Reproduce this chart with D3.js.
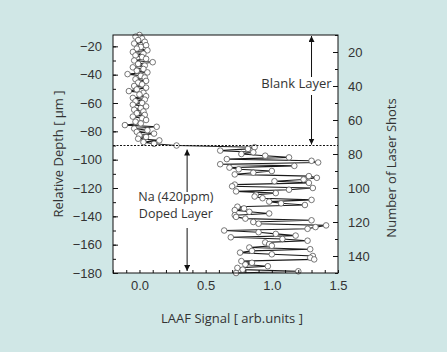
<!DOCTYPE html>
<html lang="en">
<head>
    <meta charset="UTF-8">
    <title>LAAF depth profile</title>
    <script src="https://d3js.org/d3.v7.min.js"></script>
    <style>
        html, body {
            margin: 0;
            padding: 0;
            background: #d0e7e6;
        }
        svg {
            display: block;
            font-family: "Open Sans", sans-serif;
        }
        .axis text {
            font-size: 13px;
            fill: #333;
        }
        .axis path, .axis line {
            stroke: #111;
        }
    </style>
</head>
<body>
    <svg id="chart"></svg>

    <script>
        // laser shot numbers (one measurement per shot)
        const shots = d3.range(10, 151);

        // LAAF signal, blank layer (shots 10-75)
        const blankSignal = [
            0.00, -0.03, 0.02, -0.01, 0.04, -0.04, 0.05, 0.01, -0.02, 0.06,
            -0.05, 0.03, -0.03, 0.02, 0.05, -0.04, 0.10, -0.01, 0.04, -0.05,
            0.03, -0.02, 0.06, -0.09, 0.01, 0.04, -0.03, 0.05, -0.01, 0.02,
            -0.04, 0.05, -0.02, -0.08, 0.03, 0.00, 0.05, -0.05, 0.04, -0.03,
            0.02, -0.05, 0.05, 0.01, -0.04, 0.03, -0.02, 0.04, -0.05, 0.02,
            0.05, -0.03, 0.01, -0.11, 0.13, -0.04, 0.06, -0.02, 0.11, 0.00,
            0.05, -0.01, 0.15, 0.03, 0.11, 0.28
        ];

        // LAAF signal, Na doped layer (shots 76-150)
        const dopedSignal = [
            0.87, 0.82, 0.61, 0.86, 0.77, 0.95, 1.13, 0.66, 1.30, 1.35,
            0.61, 1.17, 0.68, 0.75, 1.00, 0.86, 0.72, 1.28, 1.34, 1.24,
            1.02, 1.28, 0.72, 0.70, 1.31, 1.13, 0.73, 1.03, 0.88, 0.87,
            0.93, 1.30, 0.98, 1.07, 1.25, 0.74, 0.79, 0.72, 0.83, 0.98,
            0.72, 0.73, 0.80, 1.30, 0.86, 0.90, 1.41, 1.33, 1.27, 0.64,
            0.90, 1.03, 1.18, 0.69, 1.08, 1.27, 0.95, 0.98, 1.00, 0.83,
            1.29, 0.85, 0.76, 1.00, 1.31, 1.29, 1.32, 0.77, 0.85, 0.80,
            0.97, 0.74, 0.78, 1.20, 0.73
        ];

        const depthTicks = [-20, -40, -60, -80, -100, -120, -140, -160, -180];
        const shotTicks = [20, 40, 60, 80, 100, 120, 140];
        const signalTicks = [0.0, 0.5, 1.0, 1.5];
        const layerBoundary = -90;   // depth in µm

        const width = 447, height = 352;
        const margin = { top: 35, right: 109, bottom: 79, left: 113 };
        const w = width - margin.left - margin.right;
        const h = height - margin.top - margin.bottom;

        const svg = d3.select("#chart")
            .attr("width", width)
            .attr("height", height);

        const x = d3.scaleLinear().domain([-0.2, 1.5]).range([0, w]);
        const yDepth = d3.scaleLinear().domain([-180, -12]).range([h, 0]);
        const yShot = d3.scaleLinear().domain([10, 150]).range([0, h]);

        const g = svg.append("g")
            .attr("transform", `translate(${margin.left},${margin.top})`);

        g.append("rect")
            .attr("width", w)
            .attr("height", h)
            .attr("fill", "#fff");

        const data = shots.map((s, i) => ({
            shot: s,
            signal: i < blankSignal.length ? blankSignal[i] : dopedSignal[i - blankSignal.length]
        }));

        // connecting line
        g.append("path")
            .datum(data)
            .attr("fill", "none")
            .attr("stroke", "#1a1a1a")
            .attr("stroke-width", 1.1)
            .attr("d", d3.line().x(d => x(d.signal)).y(d => yShot(d.shot)));

        g.selectAll("circle")
            .data(data)
            .enter()
            .append("circle")
            .attr("cx", d => x(d.signal))
            .attr("cy", d => yShot(d.shot))
            .attr("r", 2.8)
            .attr("fill", "#fff")
            .attr("stroke", "#555")
            .attr("stroke-width", 0.8);

        // boundary between layers
        g.append("line")
            .attr("x1", 0).attr("x2", w)
            .attr("y1", yDepth(layerBoundary)).attr("y2", yDepth(layerBoundary))
            .attr("stroke", "#111")
            .attr("stroke-dasharray", "2,1.5");

        // arrows
        const defs = svg.append("defs");
        defs.append("marker")
            .attr("id", "head")
            .attr("viewBox", "0 0 10 10")
            .attr("refX", 10).attr("refY", 5)
            .attr("markerWidth", 6).attr("markerHeight", 6)
            .attr("markerUnits", "userSpaceOnUse")
            .attr("orient", "auto")
            .append("path")
            .attr("d", "M0,0 L10,5 L0,10 Z")
            .attr("fill", "#111");

        function arrow(xv, y1, y2) {
            g.append("line")
                .attr("x1", x(xv)).attr("x2", x(xv))
                .attr("y1", y1).attr("y2", y2)
                .attr("stroke", "#111")
                .attr("stroke-width", 1)
                .attr("marker-end", "url(#head)");
        }

        const yb = yDepth(layerBoundary);
        arrow(1.30, 60, 1);
        arrow(1.30, 60, yb - 1);
        arrow(0.36, 180, yb + 4);
        arrow(0.36, 180, h - 2);

        // white gaps for the labels
        g.append("rect").attr("x", x(1.30) - 4).attr("y", 42).attr("width", 8).attr("height", 18).attr("fill", "#fff");
        g.append("rect").attr("x", x(0.36) - 4).attr("y", 157).attr("width", 8).attr("height", 36).attr("fill", "#fff");

        g.append("text")
            .attr("x", x(1.30) + 20).attr("y", 53)
            .attr("text-anchor", "end")
            .attr("font-size", 13)
            .attr("fill", "#333")
            .text("Blank Layer");

        const doped = g.append("text")
            .attr("text-anchor", "middle")
            .attr("font-size", 12.5)
            .attr("fill", "#333");
        doped.append("tspan").attr("x", x(0.275)).attr("y", 166).text("Na (420ppm)");
        doped.append("tspan").attr("x", x(0.275)).attr("y", 182.5).text("Doped Layer");

        // frame
        g.append("rect")
            .attr("width", w)
            .attr("height", h)
            .attr("fill", "none")
            .attr("stroke", "#111");

        // axes (ticks point inward)
        const minorDepth = d3.range(-180, -11, 10);
        g.append("g").attr("class", "axis")
            .call(d3.axisLeft(yDepth).tickValues(minorDepth).tickSize(-3).tickFormat(""))
            .call(a => a.select(".domain").remove());
        g.append("g").attr("class", "axis")
            .call(d3.axisLeft(yDepth).tickValues(depthTicks).tickSize(-5).tickPadding(11)
                .tickFormat(d3.format("d")))
            .call(a => a.select(".domain").remove());

        const minorShot = d3.range(10, 151, 10);
        g.append("g").attr("class", "axis")
            .attr("transform", `translate(${w},0)`)
            .call(d3.axisRight(yShot).tickValues(minorShot).tickSize(-3).tickFormat(""))
            .call(a => a.select(".domain").remove());
        g.append("g").attr("class", "axis")
            .attr("transform", `translate(${w},0)`)
            .call(d3.axisRight(yShot).tickValues(shotTicks).tickSize(-5).tickPadding(10))
            .call(a => a.select(".domain").remove());

        const minorSignal = d3.range(-2, 16).map(d => d / 10);
        g.append("g").attr("class", "axis")
            .attr("transform", `translate(0,${h})`)
            .call(d3.axisBottom(x).tickValues(minorSignal).tickSize(-3).tickFormat(""))
            .call(a => a.select(".domain").remove());
        g.append("g").attr("class", "axis")
            .attr("transform", `translate(0,${h})`)
            .call(d3.axisBottom(x).tickValues(signalTicks).tickSize(0).tickPadding(8)
                .tickFormat(d3.format(".1f")))
            .call(a => a.select(".domain").remove());

        // axis titles
        svg.append("text")
            .attr("transform", `translate(63,${margin.top + h / 2}) rotate(-90)`)
            .attr("text-anchor", "middle")
            .attr("font-size", 13)
            .attr("fill", "#333")
            .text("Relative Depth [ µm ]");

        svg.append("text")
            .attr("transform", `translate(396,168) rotate(-90)`)
            .attr("text-anchor", "middle")
            .attr("font-size", 13)
            .attr("fill", "#333")
            .text("Number of Laser Shots");

        svg.append("text")
            .attr("x", 232).attr("y", 323)
            .attr("text-anchor", "middle")
            .attr("font-size", 13)
            .attr("fill", "#333")
            .text("LAAF Signal [ arb.units ]");
    </script>
</body>
</html>
